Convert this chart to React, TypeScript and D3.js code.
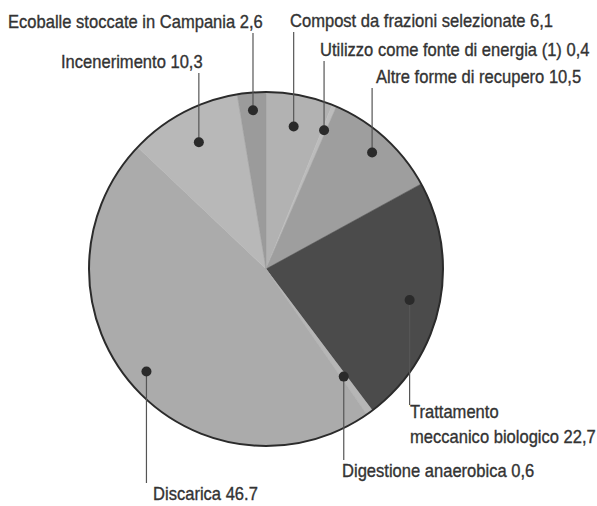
import React from 'react';
import * as d3 from 'd3';

// slices, clockwise from 12 o'clock
const categories = [
  'Compost da frazioni selezionate',
  'Utilizzo come fonte di energia (1)',
  'Altre forme di recupero',
  'Trattamento meccanico biologico',
  'Digestione anaerobica',
  'Discarica',
  'Incenerimento',
  'Ecoballe stoccate in Campania',
];
const values = [6.1, 0.4, 10.5, 22.7, 0.6, 46.7, 10.3, 2.6];
const valueLabels = ['6,1', '0,4', '10,5', '22,7', '0,6', '46.7', '10,3', '2,6'];
const colors = ['#b2b2b2', '#bcbcbc', '#9e9e9e', '#4b4b4b', '#b6b6b6', '#ababab', '#b8b8b8', '#9b9b9b'];

// label layout: dot radius (fraction of r), text anchor point, text lines
const labelLayout = [
  { rf: 0.82, tx: 290, ty: 27, lines: null },
  { rf: 0.85, tx: 320, ty: 56, lines: null },
  { rf: 0.89, tx: 376, ty: 83, lines: null },
  { rf: 0.83, tx: 410, ty: 418, lines: ['Trattamento', 'meccanico biologico'] },
  { rf: 0.75, tx: 342, ty: 477, lines: null },
  { rf: 0.89, tx: 153, ty: 500, lines: null },
  { rf: 0.81, tx: 61, ty: 68, lines: null },
  { rf: 0.9, tx: 8, ty: 28, lines: null },
];

const W = 597;
const H = 506;
const cx = 266;
const cy = 269;
const r = 177;
const FONT = '"Liberation Sans", Arial, sans-serif';

export default function App() {
  const pie = d3.pie<number>().sort(null).startAngle(0).endAngle(2 * Math.PI);
  const arcs = pie(values);
  const arcGen = d3.arc<d3.PieArcDatum<number>>().innerRadius(0).outerRadius(r);

  return (
    <svg width={W} height={H} style={{ position: 'absolute', left: 0, top: 0, background: '#fff' }}>
      <g transform={`translate(${cx},${cy})`}>
        {arcs.map((a, i) => (
          <path key={i} d={arcGen(a) || ''} fill={colors[i]} stroke={colors[i]} strokeWidth={0.5} />
        ))}
        <circle r={r} fill="none" stroke="#2b2b2b" strokeWidth={2} />
      </g>
      {arcs.map((a, i) => {
        const L = labelLayout[i];
        const mid = (a.startAngle + a.endAngle) / 2;
        const dx = cx + Math.sin(mid) * r * L.rf;
        const dy = cy - Math.cos(mid) * r * L.rf;
        const below = L.ty > dy;
        const lineEnd = below ? L.ty - (L.lines ? 13 : 17) : L.ty + 5;
        const lines = L.lines
          ? [L.lines[0], `${L.lines[1]} ${valueLabels[i]}`]
          : [`${categories[i]} ${valueLabels[i]}`];
        return (
          <g key={i}>
            <line x1={dx} y1={dy} x2={dx} y2={lineEnd} stroke="#555" strokeWidth={1.2} />
            <circle cx={dx} cy={dy} r={5} fill="#2a2a2a" />
            {lines.map((t, j) => (
              <text
                key={j}
                transform={`translate(${L.tx},${L.ty + j * 25}) scale(0.92,1)`}
                fontFamily={FONT}
                fontSize={18}
                fill="#333"
                stroke="#333"
                strokeWidth={0.35}
              >
                {t}
              </text>
            ))}
          </g>
        );
      })}
    </svg>
  );
}
